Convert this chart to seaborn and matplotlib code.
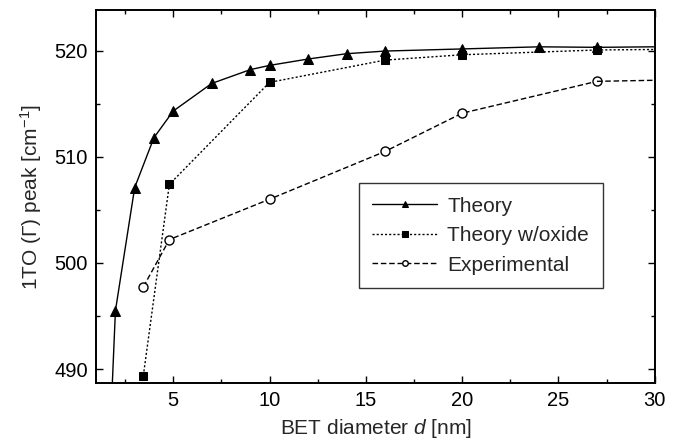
import matplotlib
matplotlib.use("Agg")
import matplotlib.pyplot as plt
import seaborn as sns

# Data
theory_x = [1.8, 2, 3, 4, 5, 7, 9, 10, 12, 14, 16, 20, 24, 27]
theory_y = [487.0, 495.5, 507.1, 511.8, 514.3, 516.9, 518.2, 518.6, 519.2, 519.7, 519.95, 520.15, 520.35, 520.3]
theory_tail_x = [27, 30]
theory_tail_y = [520.3, 520.35]

oxide_x = [3.45, 4.8, 10, 16, 20, 27]
oxide_y = [489.4, 507.4, 517.0, 519.1, 519.6, 520.05]
oxide_tail_x = [27, 30]
oxide_tail_y = [520.05, 520.1]

exp_x = [3.45, 4.8, 10, 16, 20, 27]
exp_y = [497.75, 502.2, 506.0, 510.5, 514.1, 517.1]
exp_tail_x = [27, 30]
exp_tail_y = [517.1, 517.2]

x_ticks = [5, 10, 15, 20, 25, 30]
y_ticks = [490, 500, 510, 520]

# %% Plot

sns.set_style("ticks")
plt.rcParams["font.family"] = ["Liberation Sans", "DejaVu Sans"]
plt.rcParams["mathtext.fontset"] = "custom"
plt.rcParams["mathtext.rm"] = "Liberation Sans"
plt.rcParams["mathtext.it"] = "Liberation Sans:italic"

FS = 15

fig = plt.figure(figsize=(6.82, 4.42), dpi=100)
ax = fig.add_axes([0.141, 0.1335, 0.819, 0.8435])

lw = 1.0
dots = (0, (1.5, 1.5))
dashes = (0, (4, 2))
sns.lineplot(x=theory_x, y=theory_y, ax=ax, color="black", lw=lw, linestyle="-",
             marker="^", markersize=6.5, markeredgecolor="black", label="Theory")
sns.lineplot(x=oxide_x, y=oxide_y, ax=ax, color="black", lw=lw, linestyle=dots,
             marker="s", markersize=5.5, markeredgecolor="black", label="Theory w/oxide")
sns.lineplot(x=exp_x, y=exp_y, ax=ax, color="black", lw=lw, linestyle=dashes,
             marker="o", markersize=6.5, markerfacecolor="white", markeredgecolor="black",
             markeredgewidth=1.0, label="Experimental")

# lines run on to the right edge past the last measured point
sns.lineplot(x=theory_tail_x, y=theory_tail_y, ax=ax, color="black", lw=lw, linestyle="-", legend=False)
sns.lineplot(x=oxide_tail_x, y=oxide_tail_y, ax=ax, color="black", lw=lw, linestyle=dots, legend=False)
sns.lineplot(x=exp_tail_x, y=exp_tail_y, ax=ax, color="black", lw=lw, linestyle=dashes, legend=False)

ax.set_xlim(1, 30)
ax.set_ylim(488.7, 523.8)
ax.set_xticks(x_ticks)
ax.set_yticks(y_ticks)
ax.set_xticks([2.5, 7.5, 12.5, 17.5, 22.5, 27.5], minor=True)
ax.set_yticks([495, 505, 515], minor=True)
ax.tick_params(which="both", direction="in", top=True, right=True, width=1.0, labelsize=14.5, colors="black")
ax.tick_params(which="major", length=5, pad=6)
ax.tick_params(which="minor", length=3)

for sp in ax.spines.values():
    sp.set_color("black")
    sp.set_linewidth(1.4)

ax.set_xlabel("BET diameter $d$ [nm]", fontsize=FS, labelpad=5)
ax.set_ylabel("1TO ($\\Gamma$) peak [cm$^{-1}$]", fontsize=FS, labelpad=7)

leg = ax.legend(loc="upper left", bbox_to_anchor=(0.47, 0.536), fancybox=False, frameon=True,
                edgecolor="black", fontsize=FS, handlelength=3.1, labelspacing=0.5,
                borderpad=0.65, handletextpad=0.5, borderaxespad=0)
leg.get_frame().set_linewidth(1.0)
for h in leg.legend_handles:
    h.set_markersize(4)

fig.savefig("out.png", dpi=100)
